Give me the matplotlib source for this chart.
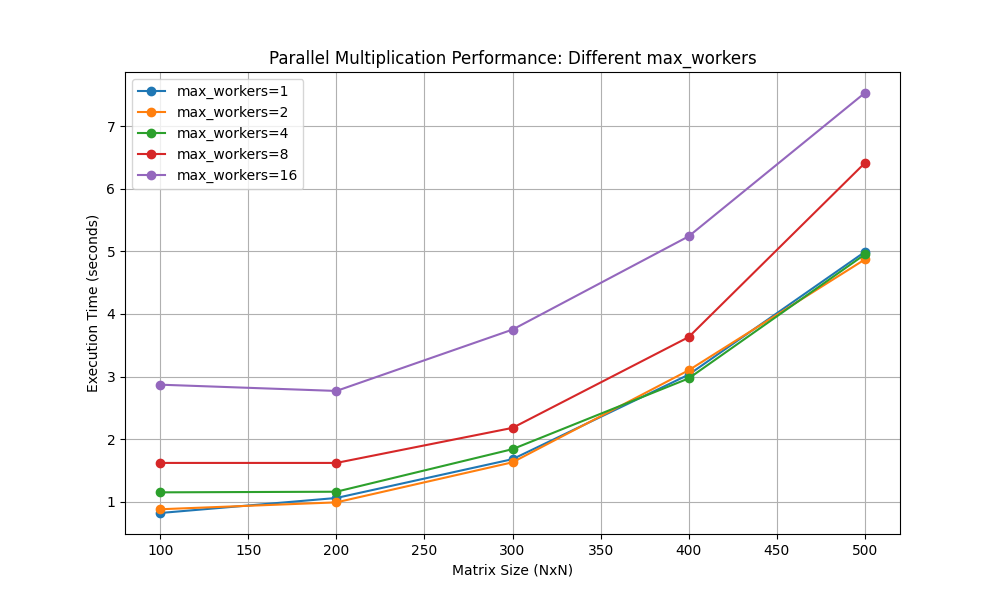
import matplotlib
matplotlib.use("Agg")
import matplotlib.pyplot as plt

# Tamaños de matriz (eje X)
matrix_sizes = [100, 200, 300, 400, 500]
worker_counts = [1, 2, 4, 8, 16]

# Tiempos de ejecución (eje Y)
time_w1 = [0.82, 1.06, 1.68, 3.03, 4.99]
time_w2 = [0.88, 0.99, 1.63, 3.10, 4.87]
time_w4 = [1.15, 1.16, 1.84, 2.97, 4.95]
time_w8 = [1.62, 1.62, 2.18, 3.63, 6.41]
time_w16 = [2.87, 2.77, 3.75, 5.24, 7.53]

series = [time_w1, time_w2, time_w4, time_w8, time_w16]

plt.figure(figsize=(10, 6), dpi=100)
for w, times in zip(worker_counts, series):
    plt.plot(matrix_sizes, times, marker='o', label=f'max_workers={w}')

plt.xlabel('Matrix Size (NxN)')
plt.ylabel('Execution Time (seconds)')
plt.title('Parallel Multiplication Performance: Different max_workers')
plt.legend()
plt.grid(True)
plt.savefig('out.png')
